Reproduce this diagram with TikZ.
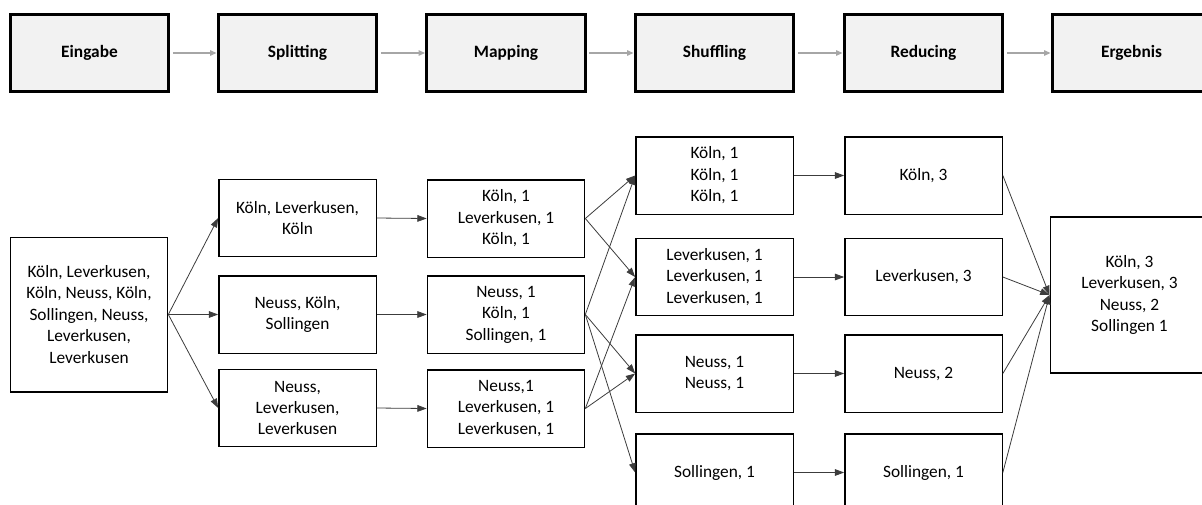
\documentclass[tikz,border=0pt]{standalone}
\usepackage{fontspec}
\setmainfont{Carlito}
\usetikzlibrary{arrows.meta}
\definecolor{cStage}{RGB}{242,242,242}
\definecolor{cFlow} {RGB}{166,166,166}
\definecolor{cLink} {RGB}{60,60,60}
\tikzset{
  >={Triangle[length=7pt,width=5pt]},
  stage/.style={draw,line width=2.2pt,fill=cStage,minimum width=119pt,minimum height=58pt,
                inner sep=1pt,font=\fontsize{13}{16}\selectfont\bfseries},
  data/.style={draw,line width=1pt,fill=white,minimum width=118pt,minimum height=58pt,
               inner sep=1pt,align=center,font=\fontsize{13}{16.1}\selectfont},
  flow/.style={-{Triangle[length=5pt,width=4pt]},cFlow,line width=1.5pt,shorten <=2pt},
  link/.style={->,cLink,line width=0.6pt},
}

\begin{document}
\begin{tikzpicture}[x=0.75pt,y=-0.75pt]
  \useasboundingbox (0,0) rectangle (1202,504);
  \clip (0,0) rectangle (1202,504);
  % phases
  \node[stage] (eing) at (89.5,53)  {Eingabe};
  \node[stage] (splt) at (297.5,53) {Splitting};
  \node[stage] (mapp) at (506,53)   {Mapping};
  \node[stage] (shuf) at (714.5,53) {Shuffling};
  \node[stage] (redu) at (923.5,53) {Reducing};
  \node[stage] (erg)  at (1131.5,53){Ergebnis};
  \draw[flow] (eing.east)--(splt.west);
  \draw[flow] (splt.east)--(mapp.west);
  \draw[flow] (mapp.east)--(shuf.west);
  \draw[flow] (shuf.east)--(redu.west);
  \draw[flow] (redu.east)--(erg.west);

  % input
  \node[data,minimum height=116pt] (in) at (89,314.5)
    {Köln, Leverkusen,\\Köln, Neuss, Köln,\\Sollingen, Neuss,\\Leverkusen,\\Leverkusen};
  % splitting
  \node[data] (s1) at (297.5,218)   {Köln, Leverkusen,\\Köln};
  \node[data] (s2) at (297.5,314.5) {Neuss, Köln,\\Sollingen};
  \node[data] (s3) at (297.5,408)   {Neuss,\\Leverkusen,\\Leverkusen};
  % mapping
  \node[data] (m1) at (506,218.5) {Köln, 1\\Leverkusen, 1\\Köln, 1};
  \node[data] (m2) at (506,314.5) {Neuss, 1\\Köln, 1\\Sollingen, 1};
  \node[data] (m3) at (506,408.5) {Neuss,1\\Leverkusen, 1\\Leverkusen, 1};
  % shuffling
  \node[data] (h1) at (714.5,175.5) {Köln, 1\\Köln, 1\\Köln, 1};
  \node[data] (h2) at (714.5,277)   {Leverkusen, 1\\Leverkusen, 1\\Leverkusen, 1};
  \node[data] (h3) at (714.5,373.5) {Neuss, 1\\Neuss, 1};
  \node[data] (h4) at (714.5,472.5) {Sollingen, 1};
  % reducing
  \node[data] (r1) at (923.5,175.5) {Köln, 3};
  \node[data] (r2) at (923.5,277)   {Leverkusen, 3};
  \node[data] (r3) at (923.5,373.5) {Neuss, 2};
  \node[data] (r4) at (923.5,472.5) {Sollingen, 1};
  % result
  \node[data,minimum width=119pt,minimum height=117pt] (res) at (1129.5,295)
    {Köln, 3\\Leverkusen, 3\\Neuss, 2\\Sollingen 1};

  \draw[link] (in.east)--(s1.west);
  \draw[link] (in.east)--(s2.west);
  \draw[link] (in.east)--(s3.west);
  \draw[link] (s1.east)--(m1.west);
  \draw[link] (s2.east)--(m2.west);
  \draw[link] (s3.east)--(m3.west);
  \draw[link] (m1.east)--(h1.west);
  \draw[link] (m1.east)--(h2.west);
  \draw[link] (m2.east)--(h1.west);
  \draw[link] (m2.east)--(h3.west);
  \draw[link] (m2.east)--(h4.west);
  \draw[link] (m3.east)--(h2.west);
  \draw[link] (m3.east)--(h3.west);
  \draw[link] (h1.east)--(r1.west);
  \draw[link] (h2.east)--(r2.west);
  \draw[link] (h3.east)--(r3.west);
  \draw[link] (h4.east)--(r4.west);
  \draw[link] (r1.east)--(res.west);
  \draw[link] (r2.east)--(res.west);
  \draw[link] (r3.east)--(res.west);
  \draw[link] (r4.east)--(res.west);
\end{tikzpicture}
\end{document}
